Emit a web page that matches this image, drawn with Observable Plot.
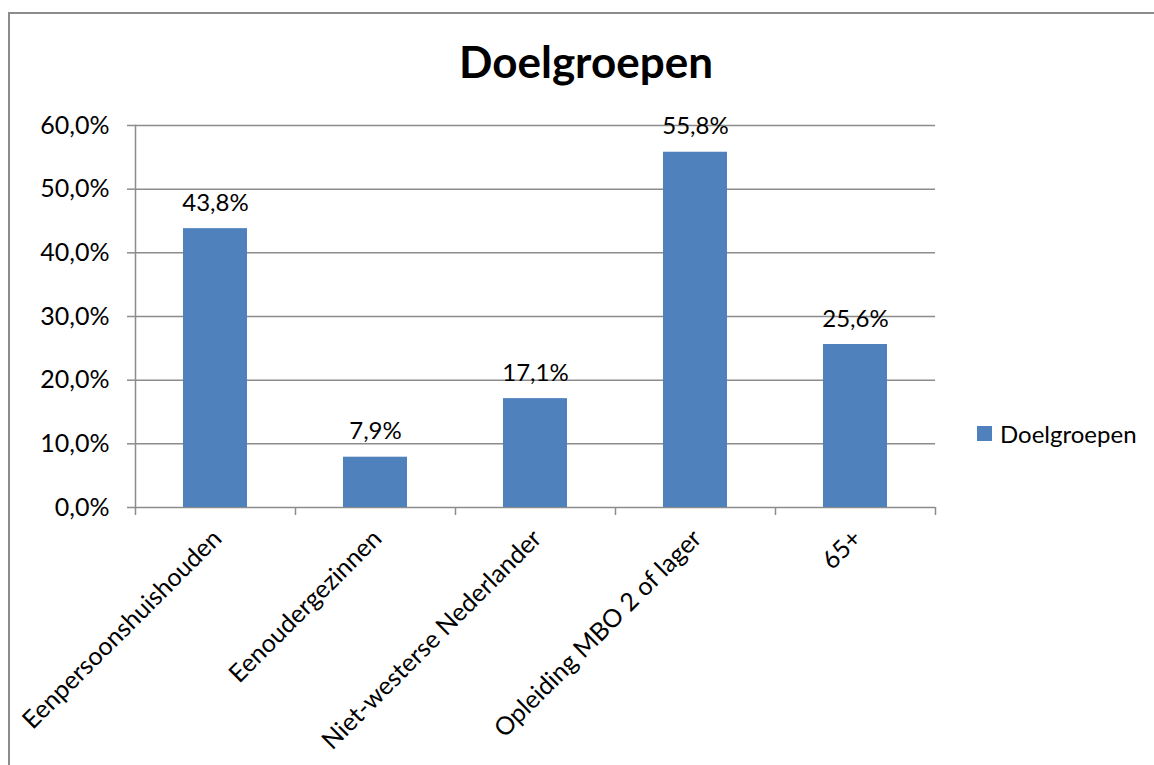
<!DOCTYPE html>
<html>
<head>
<meta charset="utf-8">
<script src="https://cdn.jsdelivr.net/npm/d3@7"></script>
<script src="https://cdn.jsdelivr.net/npm/@observablehq/plot@0.6"></script>
<style>
  html, body { margin: 0; padding: 0; background: #fff; }
  #wrap { position: relative; width: 1154px; height: 765px; overflow: hidden; font-family: Lato, "Open Sans", sans-serif; }
  #border { position: absolute; left: 8px; top: 12px; width: 1160px; height: 800px; border: 2px solid #8c8c8c; box-sizing: border-box; }
  #title { position: absolute; left: 386px; width: 400px; top: 35px; text-align: center; font-weight: bold; font-size: 44px; color: #000; }
  #legend { position: absolute; left: 977px; top: 419px; display: flex; align-items: center; font-size: 24px; color: #000; }
  #legend .sw { width: 15px; height: 15px; background: #4F81BD; margin-right: 8px; }
  #chart { position: absolute; left: 0; top: 0; }
</style>
</head>
<body>
<div id="wrap">
  <div id="border"></div>
  <div id="chart"></div>
  <div id="title">Doelgroepen</div>
  <div id="legend"><div class="sw"></div><span>Doelgroepen</span></div>
</div>
<script>
const categories = ["Eenpersoonshuishouden", "Eenoudergezinnen", "Niet-westerse Nederlander", "Opleiding MBO 2 of lager", "65+"];
const values = [0.438, 0.079, 0.171, 0.558, 0.256];
const yTicks = [0, 0.1, 0.2, 0.3, 0.4, 0.5, 0.6];
const seriesName = "Doelgroepen";

const data = categories.map((c, i) => ({category: c, value: values[i]}));
const fmt = d => (d * 100).toFixed(1).replace(".", ",") + "%";
const gray = "#8c8c8c";

const chart = Plot.plot({
  width: 1154,
  height: 765,
  marginLeft: 135,
  marginRight: 219,
  marginTop: 125,
  marginBottom: 258,
  style: {fontFamily: 'Lato, "Open Sans", sans-serif', background: "transparent"},
  x: {domain: categories, paddingInner: 0.6, paddingOuter: 0.3},
  y: {domain: [0, 0.6]},
  marks: [
    Plot.ruleY(yTicks, {stroke: gray, strokeWidth: 1.5}),
    Plot.barY(data, {x: "category", y: "value", fill: "#4F81BD"}),
    Plot.frame({anchor: "left", stroke: gray, strokeWidth: 1.5}),
    Plot.axisY({ticks: yTicks, tickFormat: fmt, tickSize: 8, tickPadding: 18, fontSize: 25, stroke: gray, fill: "black", strokeWidth: 1.5, label: null}),
    Plot.axisX({ticks: categories, tickSize: 8, text: null, dx: -80, stroke: gray, strokeWidth: 1.5, label: null}),
    Plot.axisX({ticks: categories.slice(-1), tickSize: 8, text: null, dx: 80, stroke: gray, strokeWidth: 1.5, label: null}),
    Plot.text(data, {x: "category", y: "value", text: d => fmt(d.value), lineAnchor: "bottom", dy: -18, fontSize: 24, fill: "black"}),
    Plot.text(categories, {x: d => d, frameAnchor: "bottom", text: d => d, rotate: -45, textAnchor: "end", lineAnchor: "top", dx: -5, dy: 20, fontSize: 25, fill: "black"})
  ]
});
document.getElementById("chart").appendChild(chart);
</script>
</body>
</html>
